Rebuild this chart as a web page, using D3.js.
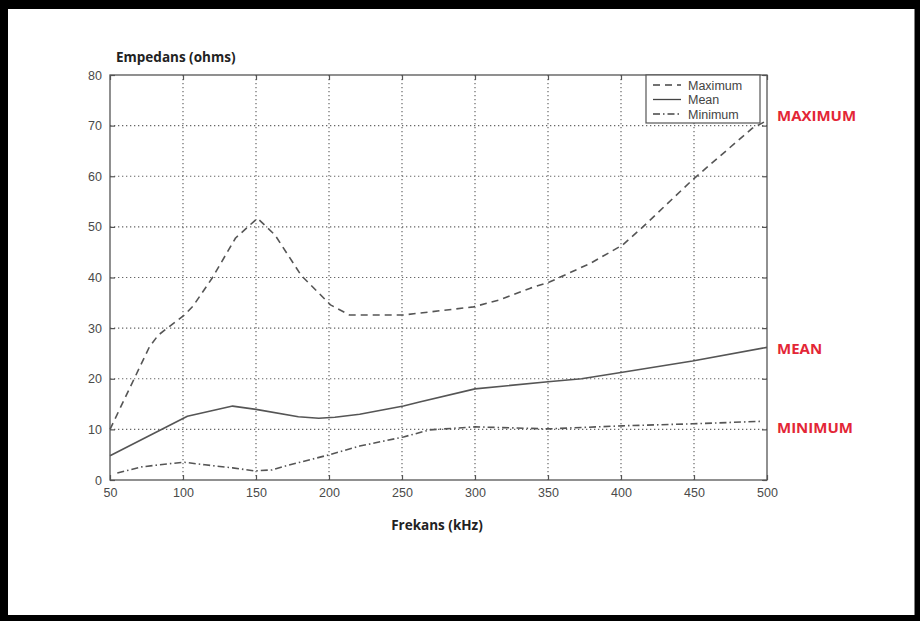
<!DOCTYPE html>
<html>
<head>
<meta charset="utf-8">
<script src="https://cdn.jsdelivr.net/npm/d3@7"></script>
<style>
  html, body { margin: 0; padding: 0; background: #fff; }
  svg { display: block; }
  .tick-label { font-family: "Liberation Sans", Arial, sans-serif; font-size: 12.5px; fill: #4a4a4a; }
  .axis-title { font-family: "Open Sans", sans-serif; font-weight: 700; font-size: 13.5px; fill: #222; }
  .side-label { font-family: "Open Sans", sans-serif; font-weight: 700; font-size: 15px; fill: #e32636; }
  .legend-text { font-family: "Liberation Sans", Arial, sans-serif; font-size: 12.5px; fill: #444; }
</style>
</head>
<body>
<svg id="chart" width="920" height="621"></svg>
<script>
  'use strict';

  // frequency (kHz) / impedance (ohms)
  var maxFreq = [50, 77, 83, 101, 107, 120, 136, 151, 163, 181, 201, 214, 251, 299, 317, 338, 351, 379, 401, 415, 449, 490, 500];
  var maxVals = [10, 26.3, 28.6, 32.6, 34.4, 39.9, 47.8, 51.7, 48.4, 40.4, 34.6, 32.6, 32.6, 34.2, 35.6, 37.9, 39.1, 42.8, 46.4, 50, 59.3, 69.5, 71];

  var meanFreq = [50, 103, 134, 151, 179, 193, 204, 221, 251, 262, 300, 350, 373, 401, 449, 500];
  var meanVals = [4.8, 12.6, 14.6, 13.9, 12.5, 12.2, 12.4, 13, 14.6, 15.4, 18, 19.4, 20, 21.3, 23.5, 26.2];

  var minFreq = [55, 72, 90, 101, 115, 134, 149, 161, 168, 199, 221, 251, 269, 300, 350, 401, 449, 497];
  var minVals = [1.4, 2.6, 3.2, 3.5, 3, 2.4, 1.8, 2, 2.6, 4.9, 6.7, 8.5, 9.9, 10.5, 10.1, 10.7, 11.1, 11.6];

  var xTicks = [50, 100, 150, 200, 250, 300, 350, 400, 450, 500];
  var yTicks = [0, 10, 20, 30, 40, 50, 60, 70, 80];

  var legendNames = ['Maximum', 'Mean', 'Minimum'];
  var dashes = ['7,5', null, '7,3,1.5,3'];

  var svg = d3.select('#chart');
  var W = 920, H = 621;

  var plot = { left: 110, top: 75, right: 767, bottom: 480 };

  var x = d3.scaleLinear().domain([50, 500]).range([plot.left, plot.right]);
  var y = d3.scaleLinear().domain([0, 80]).range([plot.bottom, plot.top]);

  // outer black frame of the picture
  svg.append('rect').attr('x', 4).attr('y', 4.5).attr('width', W - 6.5).attr('height', H - 7.5)
    .attr('fill', 'none').attr('stroke', '#000').attr('stroke-width', 6);
  svg.append('rect').attr('x', 0).attr('y', 0).attr('width', W).attr('height', 9).attr('fill', '#000');
  svg.append('rect').attr('x', 0).attr('y', 0).attr('width', 8).attr('height', H).attr('fill', '#000');

  var g = svg.append('g');

  // dotted grid
  g.selectAll('line.gx').data(xTicks.slice(1, -1)).enter().append('line')
    .attr('class', 'gx')
    .attr('x1', function(d) { return x(d); }).attr('x2', function(d) { return x(d); })
    .attr('y1', plot.top).attr('y2', plot.bottom)
    .attr('stroke', '#666').attr('stroke-width', 1.2).attr('stroke-dasharray', '1.3,2.7');

  g.selectAll('line.gy').data(yTicks.slice(1, -1)).enter().append('line')
    .attr('class', 'gy')
    .attr('y1', function(d) { return y(d); }).attr('y2', function(d) { return y(d); })
    .attr('x1', plot.left).attr('x2', plot.right)
    .attr('stroke', '#666').attr('stroke-width', 1.2).attr('stroke-dasharray', '1.3,2.7');

  // axes with inward ticks on all four sides
  var fmt = d3.format('d');
  var axisB = g.append('g').attr('transform', 'translate(0,' + plot.bottom + ')')
    .call(d3.axisBottom(x).tickValues(xTicks).tickSize(-5).tickPadding(8).tickFormat(fmt));
  var axisT = g.append('g').attr('transform', 'translate(0,' + plot.top + ')')
    .call(d3.axisTop(x).tickValues(xTicks).tickSize(-5).tickFormat(''));
  var axisL = g.append('g').attr('transform', 'translate(' + plot.left + ',0)')
    .call(d3.axisLeft(y).tickValues(yTicks).tickSize(-5).tickPadding(8).tickFormat(fmt));
  var axisR = g.append('g').attr('transform', 'translate(' + plot.right + ',0)')
    .call(d3.axisRight(y).tickValues(yTicks).tickSize(-5).tickFormat(''));

  [axisB, axisT, axisL, axisR].forEach(function(a) {
    a.select('.domain').remove();
    a.selectAll('.tick line').attr('stroke', '#555').attr('stroke-width', 1.2);
    a.selectAll('.tick text').attr('class', 'tick-label').attr('fill', null);
  });

  g.append('rect')
    .attr('x', plot.left).attr('y', plot.top)
    .attr('width', plot.right - plot.left).attr('height', plot.bottom - plot.top)
    .attr('fill', 'none').attr('stroke', '#555').attr('stroke-width', 1.3);

  // series
  function zip(fs, vs) {
    return fs.map(function(f, i) { return [f, vs[i]]; });
  }
  var series = [zip(maxFreq, maxVals), zip(meanFreq, meanVals), zip(minFreq, minVals)];

  var line = d3.line()
    .x(function(d) { return x(d[0]); })
    .y(function(d) { return y(d[1]); });

  series.forEach(function(s, i) {
    g.append('path')
      .datum(s)
      .attr('d', line)
      .attr('fill', 'none')
      .attr('stroke', '#555')
      .attr('stroke-width', 1.6)
      .attr('stroke-linejoin', 'round')
      .attr('stroke-dasharray', dashes[i]);
  });

  // legend
  var lg = g.append('g').attr('transform', 'translate(646,75)');
  lg.append('rect').attr('width', 114).attr('height', 48)
    .attr('fill', '#fff').attr('stroke', '#555').attr('stroke-width', 1.2);
  legendNames.forEach(function(name, i) {
    var yy = 10 + i * 14.5;
    lg.append('line').attr('x1', 7).attr('x2', 35).attr('y1', yy).attr('y2', yy)
      .attr('stroke', '#444').attr('stroke-width', 1.3).attr('stroke-dasharray', dashes[i]);
    lg.append('text').attr('class', 'legend-text').attr('x', 42).attr('y', yy + 4.5).text(name);
  });

  // axis titles
  svg.append('text').attr('class', 'axis-title').attr('x', 116).attr('y', 62).text('Empedans (ohms)');
  svg.append('text').attr('class', 'axis-title').attr('x', 437).attr('y', 530)
    .attr('text-anchor', 'middle').text('Frekans (kHz)');

  // red labels at line ends
  var sideLabels = ['MAXIMUM', 'MEAN', 'MINIMUM'];
  var sideY = [115, 348, 427];
  sideLabels.forEach(function(t, i) {
    svg.append('text').attr('class', 'side-label').attr('x', 777).attr('y', sideY[i] + 5.5).text(t);
  });
</script>
</body>
</html>
